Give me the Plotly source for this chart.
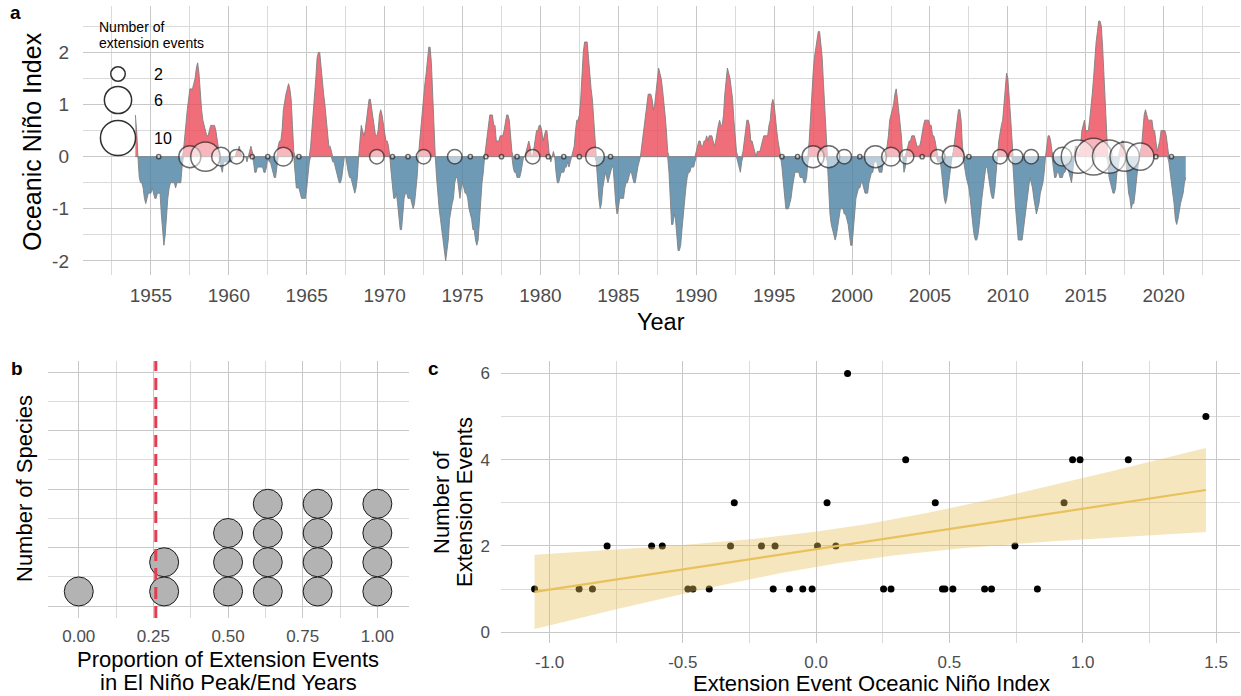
import numpy as np
import plotly.graph_objects as go

# ---------------- DATA ----------------
# Panel a: Oceanic Nino Index, 3-month running seasons (DJF ... NDJ), starting 1954
oni_start_year = 1954
oni_values = [
    0.8, 0.5, 0.0, -0.4, -0.5, -0.5, -0.6, -0.8, -0.9, -0.8, -0.7, -0.7,   # 1954
    -0.7, -0.6, -0.7, -0.8, -0.8, -0.7, -0.7, -0.7, -1.1, -1.4, -1.7, -1.5,  # 1955
    -1.1, -0.8, -0.6, -0.5, -0.5, -0.5, -0.5, -0.6, -0.5, -0.5, -0.5, -0.5,  # 1956
    -0.2, 0.1, 0.4, 0.7, 0.9, 1.1, 1.3, 1.3, 1.3, 1.4, 1.5, 1.7,            # 1957
    1.8, 1.6, 1.2, 0.9, 0.7, 0.6, 0.5, 0.4, 0.4, 0.5, 0.6, 0.6,             # 1958
    0.6, 0.6, 0.5, 0.3, 0.2, -0.1, -0.2, -0.3, -0.1, -0.1, -0.1, -0.1,      # 1959
    -0.1, -0.1, -0.1, 0.0, 0.0, 0.0, 0.1, 0.1, 0.2, 0.1, 0.0, 0.0,          # 1960
    0.0, 0.0, -0.1, 0.0, 0.1, 0.2, 0.1, -0.1, -0.3, -0.3, -0.2, -0.2,       # 1961
    -0.2, -0.2, -0.2, -0.3, -0.3, -0.2, 0.0, -0.1, -0.1, -0.2, -0.3, -0.4,  # 1962
    -0.4, -0.2, 0.2, 0.3, 0.3, 0.5, 0.9, 1.1, 1.2, 1.3, 1.4, 1.3,           # 1963
    1.1, 0.6, 0.1, -0.3, -0.6, -0.6, -0.6, -0.7, -0.8, -0.8, -0.8, -0.8,    # 1964
    -0.6, -0.3, -0.1, 0.2, 0.5, 0.8, 1.2, 1.5, 1.9, 2.0, 2.0, 1.7,          # 1965
    1.4, 1.2, 1.0, 0.7, 0.4, 0.2, 0.2, 0.1, -0.1, -0.1, -0.2, -0.3,         # 1966
    -0.4, -0.5, -0.5, -0.4, -0.2, 0.0, 0.0, -0.2, -0.3, -0.4, -0.4, -0.5,   # 1967
    -0.6, -0.7, -0.6, -0.4, 0.0, 0.3, 0.6, 0.5, 0.4, 0.5, 0.7, 1.0,         # 1968
    1.1, 1.1, 0.9, 0.8, 0.6, 0.4, 0.4, 0.5, 0.8, 0.9, 0.8, 0.6,             # 1969
    0.5, 0.3, 0.3, 0.2, 0.0, -0.3, -0.6, -0.8, -0.8, -0.7, -0.9, -1.1,      # 1970
    -1.4, -1.4, -1.1, -0.8, -0.7, -0.7, -0.8, -0.8, -0.8, -0.9, -1.0, -0.9, # 1971
    -0.7, -0.4, 0.0, 0.3, 0.6, 0.8, 1.1, 1.4, 1.6, 1.8, 2.1, 2.1,           # 1972
    1.8, 1.2, 0.6, 0.0, -0.4, -0.8, -1.0, -1.2, -1.4, -1.7, -1.9, -2.0,     # 1973
    -1.8, -1.6, -1.2, -1.0, -0.9, -0.8, -0.5, -0.4, -0.4, -0.6, -0.8, -0.6, # 1974
    -0.5, -0.6, -0.7, -0.7, -0.8, -1.0, -1.1, -1.2, -1.4, -1.4, -1.6, -1.7, # 1975
    -1.6, -1.2, -0.7, -0.5, -0.3, 0.0, 0.2, 0.4, 0.6, 0.8, 0.8, 0.8,        # 1976
    0.6, 0.6, 0.3, 0.3, 0.3, 0.4, 0.4, 0.4, 0.5, 0.7, 0.8, 0.8,             # 1977
    0.7, 0.4, 0.1, -0.2, -0.3, -0.3, -0.4, -0.4, -0.4, -0.3, -0.1, 0.0,     # 1978
    0.0, 0.1, 0.2, 0.3, 0.2, 0.0, 0.0, 0.2, 0.3, 0.5, 0.5, 0.6,             # 1979
    0.6, 0.5, 0.3, 0.4, 0.5, 0.5, 0.3, 0.0, -0.1, 0.0, 0.1, 0.0,            # 1980
    -0.3, -0.5, -0.5, -0.4, -0.3, -0.3, -0.3, -0.2, -0.2, -0.1, -0.2, -0.1, # 1981
    0.0, 0.1, 0.2, 0.5, 0.7, 0.7, 0.8, 1.1, 1.6, 2.0, 2.2, 2.2,             # 1982
    2.2, 1.9, 1.5, 1.3, 1.1, 0.7, 0.3, -0.1, -0.5, -0.8, -1.0, -0.9,        # 1983
    -0.6, -0.4, -0.3, -0.4, -0.5, -0.4, -0.3, -0.2, -0.2, -0.6, -0.9, -1.1, # 1984
    -1.0, -0.8, -0.8, -0.8, -0.8, -0.6, -0.5, -0.5, -0.4, -0.3, -0.3, -0.4, # 1985
    -0.5, -0.5, -0.3, -0.2, -0.1, 0.0, 0.2, 0.4, 0.7, 0.9, 1.1, 1.2,        # 1986
    1.2, 1.2, 1.1, 0.9, 1.0, 1.2, 1.5, 1.7, 1.6, 1.5, 1.3, 1.1,             # 1987
    0.8, 0.5, 0.1, -0.3, -0.9, -1.3, -1.3, -1.1, -1.2, -1.5, -1.8, -1.8,    # 1988
    -1.7, -1.4, -1.1, -0.8, -0.6, -0.4, -0.3, -0.3, -0.2, -0.2, -0.2, -0.1, # 1989
    0.1, 0.2, 0.3, 0.3, 0.2, 0.2, 0.3, 0.3, 0.4, 0.3, 0.4, 0.4,             # 1990
    0.4, 0.3, 0.2, 0.3, 0.5, 0.6, 0.7, 0.6, 0.6, 0.8, 1.2, 1.5,             # 1991
    1.7, 1.6, 1.5, 1.3, 1.1, 0.7, 0.4, 0.1, -0.1, -0.2, -0.3, -0.1,         # 1992
    0.1, 0.3, 0.5, 0.7, 0.7, 0.6, 0.3, 0.3, 0.2, 0.1, 0.0, 0.1,             # 1993
    0.1, 0.1, 0.2, 0.3, 0.4, 0.4, 0.4, 0.4, 0.6, 0.7, 1.0, 1.1,             # 1994
    1.0, 0.7, 0.5, 0.3, 0.1, 0.0, -0.2, -0.5, -0.8, -1.0, -1.0, -1.0,       # 1995
    -0.9, -0.8, -0.6, -0.4, -0.3, -0.3, -0.3, -0.3, -0.4, -0.4, -0.4, -0.5, # 1996
    -0.5, -0.4, -0.1, 0.3, 0.8, 1.2, 1.6, 1.9, 2.1, 2.3, 2.4, 2.4,          # 1997
    2.2, 1.9, 1.4, 1.0, 0.5, -0.1, -0.8, -1.1, -1.3, -1.4, -1.5, -1.6,      # 1998
    -1.5, -1.3, -1.1, -1.0, -1.0, -1.0, -1.1, -1.1, -1.2, -1.3, -1.5, -1.7, # 1999
    -1.7, -1.4, -1.1, -0.8, -0.7, -0.6, -0.6, -0.5, -0.5, -0.6, -0.7, -0.7, # 2000
    -0.7, -0.5, -0.4, -0.3, -0.3, -0.1, -0.1, -0.1, -0.2, -0.3, -0.3, -0.3, # 2001
    -0.1, 0.0, 0.1, 0.2, 0.4, 0.7, 0.8, 0.9, 1.0, 1.2, 1.3, 1.1,            # 2002
    0.9, 0.6, 0.4, 0.0, -0.3, -0.2, 0.1, 0.2, 0.3, 0.3, 0.4, 0.4,           # 2003
    0.4, 0.3, 0.2, 0.2, 0.2, 0.3, 0.5, 0.6, 0.7, 0.7, 0.7, 0.7,             # 2004
    0.6, 0.6, 0.4, 0.4, 0.3, 0.1, -0.1, -0.1, -0.1, -0.3, -0.6, -0.8,       # 2005
    -0.9, -0.8, -0.6, -0.4, -0.1, 0.0, 0.1, 0.3, 0.5, 0.8, 0.9, 0.9,        # 2006
    0.7, 0.2, -0.1, -0.3, -0.4, -0.5, -0.6, -0.8, -1.1, -1.3, -1.5, -1.6,   # 2007
    -1.6, -1.5, -1.3, -1.0, -0.8, -0.6, -0.4, -0.2, -0.2, -0.4, -0.6, -0.7, # 2008
    -0.8, -0.8, -0.6, -0.3, 0.0, 0.3, 0.5, 0.6, 0.7, 1.0, 1.4, 1.6,        # 2009
    1.5, 1.2, 0.8, 0.4, -0.2, -0.7, -1.0, -1.3, -1.6, -1.6, -1.6, -1.6,     # 2010
    -1.4, -1.2, -0.9, -0.7, -0.6, -0.4, -0.5, -0.6, -0.8, -1.0, -1.1, -1.0, # 2011
    -0.9, -0.7, -0.6, -0.5, -0.3, 0.0, 0.2, 0.4, 0.4, 0.3, 0.1, -0.2,       # 2012
    -0.4, -0.4, -0.3, -0.3, -0.4, -0.4, -0.4, -0.3, -0.3, -0.2, -0.2, -0.3, # 2013
    -0.4, -0.5, -0.3, 0.0, 0.2, 0.2, 0.0, 0.1, 0.2, 0.5, 0.6, 0.7,          # 2014
    0.5, 0.5, 0.5, 0.7, 0.9, 1.2, 1.5, 1.9, 2.2, 2.4, 2.6, 2.6,             # 2015
    2.5, 2.1, 1.6, 0.9, 0.4, -0.1, -0.4, -0.5, -0.6, -0.7, -0.7, -0.6,      # 2016
    -0.3, -0.2, 0.1, 0.2, 0.3, 0.3, 0.1, -0.1, -0.4, -0.7, -0.8, -1.0,      # 2017
    -0.9, -0.9, -0.7, -0.5, -0.2, 0.0, 0.1, 0.2, 0.5, 0.8, 0.9, 0.8,        # 2018
    0.7, 0.7, 0.7, 0.7, 0.5, 0.5, 0.3, 0.1, 0.2, 0.3, 0.5, 0.5,             # 2019
    0.5, 0.5, 0.4, 0.2, -0.1, -0.3, -0.4, -0.6, -0.9, -1.2, -1.3, -1.2,     # 2020
    -1.0, -0.9, -0.8, -0.7, -0.5, -0.4,                                     # 2021
]

# Panel a: years with range-extension events and number of events
event_years = [1955, 1957, 1958, 1959, 1960, 1961, 1962, 1963, 1964,
               1969, 1970, 1971, 1972, 1974, 1975, 1976, 1977, 1978, 1979,
               1980, 1981, 1982, 1983, 1984, 1995, 1996, 1997, 1998, 1999,
               2000, 2001, 2002, 2003, 2004, 2005, 2006, 2007, 2009, 2010,
               2011, 2013, 2014, 2015, 2016, 2017, 2018, 2019, 2020]
event_counts = [1, 4, 7, 3, 2, 1, 1, 3, 1,
                2, 1, 1, 2, 2, 1, 1, 1, 1, 2,
                1, 1, 1, 3, 1, 1, 1, 4, 4, 2,
                1, 4, 3, 2, 1, 2, 4, 1, 2, 2,
                2, 3, 9, 11, 9, 7, 6, 1, 1]
legend_counts = [2, 6, 10]
year_ticks = [1955, 1960, 1965, 1970, 1975, 1980, 1985, 1990, 1995, 2000,
              2005, 2010, 2015, 2020]
oni_ticks = [-2, -1, 0, 1, 2]

# Panel b: proportion of each species' extension events in El Nino peak/end years
species_proportion = [0.0, 0.286, 0.286, 0.5, 0.5, 0.5,
                      0.633, 0.633, 0.633, 0.633, 0.8, 0.8, 0.8, 0.8,
                      1.0, 1.0, 1.0, 1.0]
expected_proportion = 0.258
prop_ticks = [0.0, 0.25, 0.5, 0.75, 1.0]
prop_tick_labels = ["0.00", "0.25", "0.50", "0.75", "1.00"]

# Panel c: extension event ONI vs number of extension events
ext_oni = [-1.056, -0.889, -0.839, -0.784, -0.617, -0.577, -0.481, -0.462,
           -0.401, -0.321, -0.307, -0.205, -0.154, -0.161, -0.100, -0.050,
           -0.015, 0.005, 0.041, 0.074, 0.118, 0.253, 0.281, 0.336, 0.447,
           0.474, 0.483, 0.513, 0.632, 0.658, 0.746, 0.830, 0.930, 0.962,
           0.990, 1.171, 1.462]
ext_count = [1, 1, 1, 2, 2, 2, 1, 1,
             1, 2, 3, 2, 2, 1, 1, 1,
             1, 2, 3, 2, 6, 1, 1, 4, 3,
             1, 1, 1, 1, 1, 2, 1, 3, 4,
             4, 4, 5]
c_xticks = [-1.0, -0.5, 0.0, 0.5, 1.0, 1.5]
c_xtick_labels = ["-1.0", "-0.5", "0.0", "0.5", "1.0", "1.5"]
c_yticks = [0, 2, 4, 6]
t_crit = 2.030  # t quantile, 95% CI, df = n - 2

# ---------------- STYLE ----------------
W, H = 1241, 696
FONT = "Liberation Sans, Arial, Helvetica, sans-serif"
TICK_COL = "#4D4D4D"
GRID_MAJOR = "#C8C8C8"
GRID_MINOR = "#DADADA"
RED = "rgba(235,74,89,0.8)"
BLUE = "rgba(75,129,164,0.8)"


def px_x(p):
    return p / W


def px_y(p):
    return 1 - p / H


def circle_diam(n):
    return 5.7 + 10.3 * np.sqrt(np.asarray(n, dtype=float) - 1)


fig = go.Figure()

# ---------------- PANEL A ----------------
oni = np.array(oni_values)
t = oni_start_year + np.arange(len(oni)) / 12.0
pos = np.where(oni > 0, oni, 0.0)
neg = np.where(oni < 0, oni, 0.0)

fig.add_trace(go.Scatter(x=t, y=pos, mode="lines", fill="tozeroy",
                         fillcolor=RED, line=dict(color="#808080", width=0.9),
                         hoverinfo="skip", xaxis="x", yaxis="y"))
fig.add_trace(go.Scatter(x=t, y=neg, mode="lines", fill="tozeroy",
                         fillcolor=BLUE, line=dict(color="#808080", width=0.9),
                         hoverinfo="skip", xaxis="x", yaxis="y"))

ev_x = np.array(event_years) + 0.5
fig.add_trace(go.Scatter(
    x=ev_x, y=np.zeros(len(ev_x)), mode="markers",
    marker=dict(size=circle_diam(event_counts) - 1.5,
                color="rgba(255,255,255,0.72)",
                line=dict(color="#303030", width=1.5)),
    xaxis="x", yaxis="y", hoverinfo="skip"))

# ---------------- PANEL B ----------------
props = np.array(species_proportion)
bx, by = [], []
stack = {}
for p in props:
    k = stack.get(p, 0)
    bx.append(p)
    by.append((k + 0.5) / 8.0)
    stack[p] = k + 1
fig.add_trace(go.Scatter(x=bx, y=by, mode="markers",
                         marker=dict(size=29, color="#B3B3B3",
                                     line=dict(color="#1A1A1A", width=1)),
                         xaxis="x2", yaxis="y2", hoverinfo="skip"))

# ---------------- PANEL C ----------------
xs = np.array(ext_oni)
ys = np.array(ext_count, dtype=float)
fig.add_trace(go.Scatter(x=xs, y=ys, mode="markers",
                         marker=dict(size=7, color="black"),
                         xaxis="x3", yaxis="y3", hoverinfo="skip"))
n = len(xs)
b1, b0 = np.polyfit(xs, ys, 1)
xbar = xs.mean()
sxx = ((xs - xbar) ** 2).sum()
resid = ys - (b0 + b1 * xs)
s = np.sqrt((resid ** 2).sum() / (n - 2))
xg = np.linspace(xs.min(), xs.max(), 80)
yg = b0 + b1 * xg
se = s * np.sqrt(1.0 / n + (xg - xbar) ** 2 / sxx)
lo, hi = yg - t_crit * se, yg + t_crit * se
fig.add_trace(go.Scatter(x=np.concatenate([xg, xg[::-1]]),
                         y=np.concatenate([hi, lo[::-1]]),
                         mode="lines", fill="toself",
                         fillcolor="rgba(232,193,90,0.4)",
                         line=dict(width=0), xaxis="x3", yaxis="y3",
                         hoverinfo="skip"))
fig.add_trace(go.Scatter(x=xg, y=yg, mode="lines",
                         line=dict(color="#E8C15A", width=2.2),
                         xaxis="x3", yaxis="y3", hoverinfo="skip"))

# ---------------- AXES ----------------
def axis(domain, rng, tickvals=None, ticktext=None, minor_dtick=None,
         tick0=0, size=16, standoff=10, showlabels=True, anchor=None):
    d = dict(domain=domain, range=rng, showline=False, zeroline=False,
             showgrid=True, gridcolor=GRID_MAJOR, gridwidth=1.4,
             ticks="", ticklabelstandoff=standoff,
             tickfont=dict(family=FONT, size=size, color=TICK_COL),
             showticklabels=showlabels, fixedrange=True, anchor=anchor)
    if tickvals is not None:
        d["tickmode"] = "array"
        d["tickvals"] = tickvals
        if ticktext is not None:
            d["ticktext"] = ticktext
    if minor_dtick is not None:
        d["minor"] = dict(dtick=minor_dtick, tick0=tick0, showgrid=True,
                          gridcolor=GRID_MINOR, gridwidth=1.1, ticks="")
    return d


a_x = [px_x(83), px_x(1240)]
a_y = [px_y(275), px_y(6)]
b_x = [px_x(48), px_x(409)]
b_y = [px_y(618), px_y(361)]
c_x = [px_x(501), px_x(1240)]
c_y = [px_y(643), px_y(361)]

fig.update_layout(
    xaxis=axis(a_x, [1950.64, 2024.9], year_ticks, [str(v) for v in year_ticks],
               2.5, 1950, 19, 7, anchor="y"),
    yaxis=axis(a_y, [-2.27, 2.89], oni_ticks, [str(v) for v in oni_ticks],
               0.5, 0, 19, 13, anchor="x"),
    xaxis2=axis(b_x, [-0.103, 1.106], prop_ticks, prop_tick_labels,
                0.125, 0, 17, 6, anchor="y2"),
    yaxis2=axis(b_y, [-0.051, 1.048], [0, 0.25, 0.5, 0.75, 1.0], None,
                0.125, 0, 17, 10, showlabels=False, anchor="x2"),
    xaxis3=axis(c_x, [-1.182, 1.59], c_xticks, c_xtick_labels,
                0.25, 0, 17, 7, anchor="y3"),
    yaxis3=axis(c_y, [-0.25, 6.29], c_yticks, [str(v) for v in c_yticks],
                1, 0, 17, 10, anchor="x3"),
)

# ---------------- SHAPES (legend keys, reference line) ----------------
shapes = []
leg_y = [74, 100, 138]
for cnt, yy in zip(legend_counts, leg_y):
    r = float(circle_diam(cnt)) / 2 - 0.75
    shapes.append(dict(type="circle", xref="paper", yref="paper",
                       xsizemode="pixel", ysizemode="pixel",
                       xanchor=px_x(118), yanchor=px_y(yy),
                       x0=-r, x1=r, y0=-r, y1=r,
                       line=dict(color="#303030", width=1.5),
                       fillcolor="white", layer="above"))
shapes.append(dict(type="line", xref="x2", yref="y2 domain",
                   x0=expected_proportion, x1=expected_proportion, y0=0, y1=1,
                   line=dict(color="#E23D50", width=3, dash="12px,7px"),
                   layer="above"))

# ---------------- TEXT ----------------
ann = []


def text(x, y, s, size, color="black", angle=0, xanchor="center",
         yanchor="middle", bold=False, align="center"):
    if bold:
        s = "<b>" + s + "</b>"
    ann.append(dict(x=px_x(x), y=px_y(y), xref="paper", yref="paper",
                    text=s, showarrow=False, textangle=angle,
                    xanchor=xanchor, yanchor=yanchor, align=align,
                    font=dict(family=FONT, size=size, color=color)))


text(15, 12, "a", 19, bold=True)
text(17, 368, "b", 19, bold=True)
text(433, 368, "c", 19, bold=True)

text(32, 142, "Oceanic Niño Index", 25, angle=-90)
text(661, 322, "Year", 23.5)
text(97, 27, "Number of", 14, xanchor="left", align="left")
text(97, 43, "extension events", 14, xanchor="left", align="left")
for cnt, yy in zip(legend_counts, leg_y):
    text(152, yy, str(cnt), 16, xanchor="left")

text(24, 489, "Number of Species", 22, angle=-90)
text(228, 659, "Proportion of Extension Events", 22)
text(228, 682, "in El Niño Peak/End Years", 22)

text(441, 502, "Number of", 22, angle=-90)
text(464, 502, "Extension Events", 22, angle=-90)
text(871, 683, "Extension Event Oceanic Niño Index", 22)

fig.update_layout(
    width=W, height=H, margin=dict(l=0, r=0, t=0, b=0),
    paper_bgcolor="white", plot_bgcolor="white", showlegend=False,
    shapes=shapes, annotations=ann,
    font=dict(family=FONT),
)

fig.write_html("out.html",
               config={"displayModeBar": False},
               post_script="document.body.style.margin='0px';"
                           "document.body.style.overflow='hidden';")
